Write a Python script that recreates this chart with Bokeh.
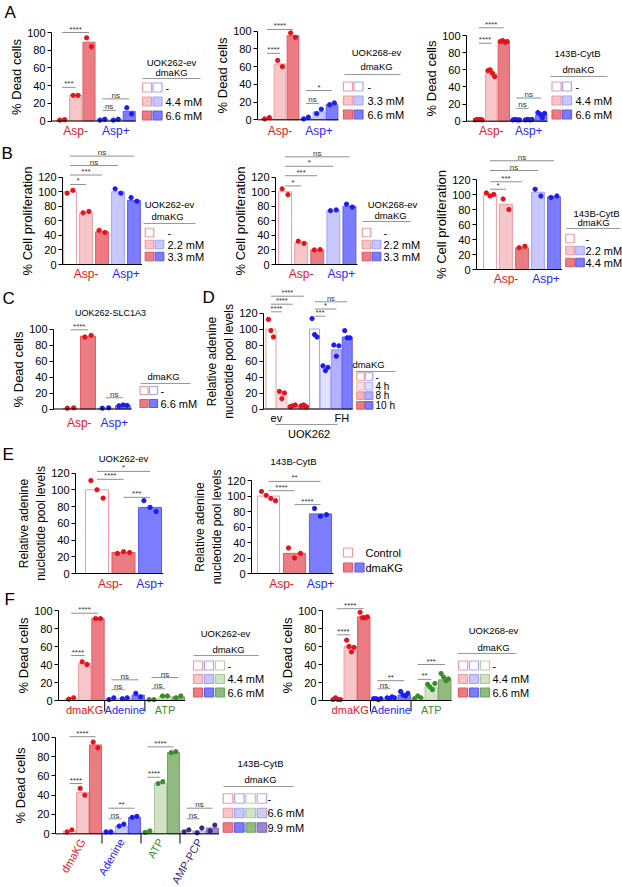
import math
from bokeh.plotting import figure
from bokeh.layouts import column, row
from bokeh.models import Range1d, FixedTicker
from bokeh.core.properties import value
from bokeh.embed import file_html
from bokeh.resources import INLINE

# ===================== DATA =====================
asp_groups = ["Asp-", "Asp+"]
cell_lines = ["UOK262-ev", "UOK268-ev", "143B-CytB"]
treat_groups = ["dmaKG", "Adenine", "ATP"]
treat_groups_f3 = ["dmaKG", "Adenine", "ATP", "AMP-PCP"]

# A: % dead cells; bars = Asp- (0, low, high), Asp+ (0, low, high)
a1_mean = [1, 29, 89, 1.5, 1.5, 11]
a1_pts = [[1, 1.5], [29, 29], [94, 84], [1, 2], [1, 2], [15, 8]]
a1_doses = ["-", "4.4 mM", "6.6 mM"]
a1_sig = [(0, 1, 38, "***"), (0, 2, 100, "****"), (3, 4, 12, "ns"), (3, 5, 25, "ns")]

a2_mean = [1.5, 63, 95, 1.5, 9, 17]
a2_pts = [[1, 2.5], [67, 60], [98, 93], [1, 3], [7, 12], [17, 19]]
a2_doses = ["-", "3.3 mM", "6.6 mM"]
a2_sig = [(0, 1, 75, "****"), (0, 2, 102, "****"), (3, 4, 18.5, "ns"), (3, 5, 33, "*")]

a3_mean = [1.5, 56, 93, 1.5, 1.5, 7]
a3_pts = [[1.5, 2, 2, 1.5], [59, 60, 56, 52], [93, 94, 92, 93],
          [1.5, 2, 1.5, 1.5], [1.5, 2, 1.5, 2], [10, 8, 4, 9]]
a3_doses = ["-", "4.4 mM", "6.6 mM"]
a3_sig = [(0, 1, 91, "****"), (0, 2, 109, "****"), (3, 4, 15, "ns"), (3, 5, 27, "ns")]

# B: % cell proliferation; bars = Asp- (0, low, high), Asp+ (low, high)
b1_mean = [100, 71, 45, 100, 88]
b1_pts = [[98, 102], [71, 73], [47, 44], [104, 98], [92, 87]]
b1_doses = ["-", "2.2 mM", "3.3 mM"]
b1_sig = [(0, 1, 110, "*"), (0, 2, 123, "***"), (0, 3, 136, "ns"), (0, 4, 149, "ns")]

b2_mean = [100, 30, 20, 74, 80]
b2_pts = [[104, 96], [32, 29], [20, 20.5], [74, 75], [83, 79]]
b2_doses = ["-", "2.2 mM", "3.3 mM"]
b2_sig = [(0, 1, 108, "*"), (0, 2, 122, "***"), (0, 3, 135, "*"), (0, 4, 148, "ns")]

b3_mean = [100, 87, 29, 103, 97]
b3_pts = [[102, 98, 100], [94, 80], [29, 31], [107, 98], [96, 98]]
b3_doses = ["-", "2.2 mM", "4.4 mM"]
b3_sig = [(0, 1, 107, "*"), (0, 2, 117, "***"), (0, 3, 132, "ns"), (0, 4, 145, "ns")]

# C: UOK262-SLC1A3 % dead cells; bars = Asp- (0, 6.6), Asp+ (0, 6.6)
c_title = "UOK262-SLC1A3"
c_mean = [1, 91, 1, 4]
c_pts = [[1, 1.5], [90, 92], [1, 1.5], [4, 5, 4.5]]
c_doses = ["-", "6.6 mM"]
c_sig = [(0, 1, 99, "****"), (2, 3, 14, "ns")]

# D: relative adenine nucleotide pool levels; ev (0,4,8,10 h), FH (0,4,8,10 h)
d_groups = ["ev", "FH"]
d_cell = "UOK262"
d_times = ["-", "4 h", "8 h", "10 h"]
d_mean = [100, 18, 4, 4, 100, 51, 74, 90]
d_pts = [[112, 98, 90], [22, 13, 20], [3, 4, 5], [4, 5, 3],
         [113, 93, 90], [54, 48, 52], [80, 66, 79], [98, 89, 89]]
d_sig = [(0, 1, 121.5, "****"), (0, 2, 131, "****"), (0, 3, 141, "****"),
         (4, 5, 116, "***"), (4, 6, 125, "*"), (4, 7, 134, "ns")]

# E: control (Asp-), dmaKG Asp-, dmaKG Asp+
e_legend = ["Control", "dmaKG"]
e1_mean = [100, 25, 79]
e1_pts = [[111, 100, 90], [24, 26, 25], [87, 79, 74]]
e1_sig = [(0, 1, 112.5, "****"), (0, 2, 122, "*"), (1, 2, 91, "***")]
e2_mean = [100, 26, 77]
e2_pts = [[106, 101, 97, 94], [33, 20, 26], [84, 74, 76]]
e2_sig = [(0, 1, 107, "****"), (0, 2, 119, "**"), (1, 2, 89, "****")]

# F: % dead cells; each group (0, low, high)
f1_mean = [2, 41, 91, 2, 2, 6, 1, 4.5, 4]
f1_pts = [[1.5, 3], [43, 40], [91, 91], [1, 3], [2, 3], [8, 4], [1, 1], [5, 5], [3, 5]]
f1_doses = ["-", "4.4 mM", "6.6 mM"]
f1_sig = [(0, 1, 50, "****"), (0, 2, 97, "****"), (3, 4, 12, "ns"), (3, 5, 23, "ns"),
          (6, 7, 13, "ns"), (6, 8, 25.5, "ns")]

f2_mean = [1.5, 60, 93, 2, 3, 6, 3, 15, 23]
f2_pts = [[1, 3, 1, 1], [67, 60, 54, 59], [98, 92, 92, 93], [2, 2, 1, 2], [3, 2, 4, 3],
          [10, 6, 5, 8], [2, 5, 3], [18, 15, 12, 19], [30, 26, 22, 24]]
f2_doses = ["-", "4.4 mM", "6.6 mM"]
f2_sig = [(0, 1, 73, "****"), (0, 2, 102, "****"), (3, 4, 13, "ns"), (3, 5, 22, "**"),
          (6, 7, 23.5, "**"), (6, 8, 40, "***")]

f3_mean = [3, 43, 92, 2, 8, 17, 2, 52, 84, 3, 3, 6]
f3_pts = [[2, 4], [47, 40], [95, 89], [2, 2], [8, 10], [17, 18], [1.5, 3], [52, 54],
          [84, 85], [2, 4], [1, 6], [3, 9]]
f3_doses = ["-", "6.6 mM", "9.9 mM"]
f3_sig = [(0, 1, 52, "****"), (0, 2, 100.5, "****"), (3, 4, 15.5, "ns"), (3, 5, 26.5, "**"),
          (6, 7, 58.5, "****"), (6, 8, 90, "****"), (9, 10, 15.5, "ns"), (9, 11, 26.5, "ns")]

# ===================== STYLE =====================
FONT = "Liberation Sans"
RED = [("#ffffff", "#f19aa0"), ("#f7c6c9", "#ee9ca2"), ("#ec7c83", "#e05b64")]
BLUE = [("#ffffff", "#a3a3ff"), ("#c8c8ff", "#a3a3ff"), ("#7c7cff", "#5c5cf2")]
GREEN = [("#ffffff", "#b5d1a7"), ("#d1e2c7", "#abc99c"), ("#90ba80", "#71a361")]
PURPLE = [("#ffffff", "#b6acd8"), ("#d4cdea", "#ada1d6"), ("#9a8aca", "#7b6ab4")]
RED4 = [("#ffffff", "#f19aa0"), ("#fbe1e3", "#f4b6ba"), ("#f5b6ba", "#ee959b"), ("#ec7c83", "#e05b64")]
BLUE4 = [("#ffffff", "#a3a3ff"), ("#e0e0ff", "#b8b8ff"), ("#b2b2ff", "#9090ff"), ("#7c7cff", "#5c5cf2")]
RD, BD, GD, PD = "#e3121b", "#1c1cf2", "#3b8a2b", "#36297e"
C_RED, C_BLUE, C_GREEN, C_PURPLE = "#e8141c", "#2626ff", "#3f8f2f", "#3a2b8a"
SIG_LINE, SIG_TXT = "#8f8f8f", "#333333"
DOT_SPAN = {1: 0.0, 2: 0.36, 3: 0.46, 4: 0.54}


class Panel:
    def __init__(self, left, top, w, h, axis_x, y0, ppu, xb0, pitch, ymax, ylabel,
                 ystep=20, label_size="13px"):
        self.xb0, self.pitch, self.y0, self.ppu, self.axis_x = xb0, pitch, y0, ppu, axis_x
        p = figure(width=w, height=h, output_backend="svg", toolbar_location=None,
                   x_range=Range1d(self.X(left), self.X(left + w)),
                   y_range=Range1d(self.Y(top + h), self.Y(top)),
                   min_border_left=0, min_border_right=0,
                   min_border_top=0, min_border_bottom=0)
        p.outline_line_color = None
        p.xgrid.visible = False
        p.ygrid.visible = False
        p.xaxis.visible = False
        ax = p.yaxis[0]
        ax.fixed_location = self.X(axis_x)
        ax.ticker = FixedTicker(ticks=list(range(0, ymax + 1, ystep)))
        ax.bounds = (0, ymax)
        ax.axis_label = ylabel
        ax.axis_label_text_font = FONT
        ax.axis_label_text_font_size = label_size
        ax.axis_label_text_font_style = "normal"
        ax.axis_label_text_color = "black"
        ax.axis_label_standoff = 0
        ax.major_label_text_font = FONT
        ax.major_label_text_font_size = "11px"
        ax.major_label_text_color = "black"
        ax.major_label_standoff = 2
        ax.major_tick_out = 4
        ax.major_tick_in = 0
        ax.minor_tick_out = 0
        ax.minor_tick_in = 0
        ax.axis_line_color = "black"
        ax.major_tick_line_color = "black"
        self.p = p

    def X(self, px):
        return (px - self.xb0) / self.pitch - 0.5

    def Y(self, py):
        return (self.y0 - py) / self.ppu

    def txt(self, x, y, s, color="black", size="11px", align="center",
            baseline="middle", angle=0.0):
        self.p.text(x=[x], y=[y], text=[s], text_color=color, text_font=value(FONT),
                    text_font_size=size, text_align=align, text_baseline=baseline,
                    angle=angle)

    def bars(self, mean, pts, styles, dotcols, bw=0.9):
        n = len(mean)
        xs = list(range(n))
        self.p.vbar(x=xs, top=mean, bottom=0, width=bw,
                    fill_color=[s[0] for s in styles], line_color=[s[1] for s in styles],
                    line_width=1)
        dx, dy, dc = [], [], []
        for i, vals in enumerate(pts):
            m = len(vals)
            step = 0 if m == 1 else DOT_SPAN[m] / (m - 1)
            for k, v in enumerate(vals):
                dx.append(i + (k - (m - 1) / 2) * step)
                dy.append(v)
                dc.append(dotcols[i])
        self.p.scatter(dx, dy, size=4.3, fill_color=dc, line_color=dc, marker="circle")
        self.p.segment(x0=[self.X(self.axis_x)], y0=[0], x1=[n - 0.5], y1=[0],
                       line_color="black", line_width=1)

    def sig(self, sigs, size="8px"):
        for i, j, yv, lab in sigs:
            self.p.segment(x0=[i], y0=[yv], x1=[j], y1=[yv], line_color=SIG_LINE, line_width=1)
            self.txt((i + j) / 2, yv + 3.5 / self.ppu, lab, color=SIG_TXT, size=size,
                     baseline="alphabetic")

    def legend(self, fams, levels, labels, cx0, cpitch, ry0, rpitch, size, lab_x,
               titles=(), rule=None, present=None, lab_size="11px", title_size="9.5px"):
        for r, lab in enumerate(labels):
            cy = ry0 + r * rpitch
            cols = present[r] if present else range(len(fams))
            for c in cols:
                fill, line = fams[c][levels[r]]
                self.p.rect(x=[self.X(cx0 + c * cpitch)], y=[self.Y(cy)], width=size,
                            height=size, width_units="screen", height_units="screen",
                            fill_color=fill, line_color=line, line_width=1.2)
            self.txt(self.X(lab_x), self.Y(cy), lab, size=lab_size, align="left")
        for t, tx, ty in titles:
            self.txt(self.X(tx), self.Y(ty), t, size=title_size)
        if rule:
            self.p.segment(x0=[self.X(rule[0])], y0=[self.Y(rule[2])], x1=[self.X(rule[1])],
                           y1=[self.Y(rule[2])], line_color="#9a9a9a", line_width=1)

    def letter(self, s, px, py):
        self.txt(self.X(px), self.Y(py), s, size="17px", align="left")

    def seps(self, xs, py):
        for x in xs:
            self.p.segment(x0=[x], y0=[0], x1=[x], y1=[self.Y(py)], line_color="black",
                           line_width=1)


ASP_STY = [RED[0], RED[1], RED[2], BLUE[0], BLUE[1], BLUE[2]]
ASP_DOT = [RD] * 3 + [BD] * 3
B_STY = [RED[0], RED[1], RED[2], BLUE[1], BLUE[2]]
B_DOT = [RD] * 3 + [BD] * 2
DEAD = "% Dead cells"
PROL = "% Cell proliferation"
POOL = "Relative adenine\nnucleotide pool levels"

# ---------------- A ----------------
A1 = Panel(0, 0, 212, 140, 51, 120.5, 0.885, 55, 13.4, 100, DEAD)
A1.bars(a1_mean, a1_pts, ASP_STY, ASP_DOT)
A1.sig(a1_sig)
A1.txt(1, A1.Y(130), asp_groups[0], C_RED, "12px")
A1.txt(4, A1.Y(130), asp_groups[1], C_BLUE, "12px")
A1.legend([RED, BLUE], [0, 1, 2], a1_doses, 146.5, 10.5, 87, 14, 9, 165,
          titles=[(cell_lines[0], 171, 62), ("dmaKG", 171, 72)], rule=(142, 200, 78))
A1.letter("A", 4, 12)

A2 = Panel(212, 0, 208, 140, 257, 119.3, 0.886, 260, 13, 100, DEAD)
A2.bars(a2_mean, a2_pts, ASP_STY, ASP_DOT)
A2.sig(a2_sig)
A2.txt(1, A2.Y(130), asp_groups[0], C_RED, "12px")
A2.txt(4, A2.Y(130), asp_groups[1], C_BLUE, "12px")
A2.legend([RED, BLUE], [0, 1, 2], a2_doses, 347.5, 10.5, 86, 14, 9, 367,
          titles=[(cell_lines[1], 376, 52), ("dmaKG", 376, 66)], rule=(344, 400, 74))

A3 = Panel(420, 0, 202, 140, 466, 120.7, 0.857, 472, 12.5, 100, DEAD)
A3.bars(a3_mean, a3_pts, ASP_STY, ASP_DOT)
A3.sig(a3_sig)
A3.txt(1, A3.Y(130), asp_groups[0], C_RED, "12px")
A3.txt(4, A3.Y(130), asp_groups[1], C_BLUE, "12px")
A3.legend([RED, BLUE], [0, 1, 2], a3_doses, 556, 10.5, 86, 14, 9, 575,
          titles=[(cell_lines[2], 577, 53), ("dmaKG", 578, 69)], rule=(550, 607, 76))

# ---------------- B ----------------
B1 = Panel(0, 140, 225, 145, 62, 264, 0.7275, 61.5, 16, 120, PROL)
B1.bars(b1_mean, b1_pts, B_STY, B_DOT, bw=0.8)
B1.sig(b1_sig)
B1.txt(1, B1.Y(273), asp_groups[0], C_RED, "12px")
B1.txt(3.5, B1.Y(273), asp_groups[1], C_BLUE, "12px")
B1.legend([RED, BLUE], [0, 1, 2], b1_doses, 149, 10, 232, 12, 8.5, 167,
          titles=[(cell_lines[0], 169, 204), ("dmaKG", 167, 216)], rule=(143, 195, 223),
          present=[[0], [0, 1], [0, 1]])
B1.letter("B", 1, 153)

B2 = Panel(225, 140, 205, 145, 275, 264, 0.7275, 276.5, 16.1, 120, PROL)
B2.bars(b2_mean, b2_pts, B_STY, B_DOT, bw=0.8)
B2.sig(b2_sig)
B2.txt(1, B2.Y(273), asp_groups[0], C_RED, "12px")
B2.txt(3.5, B2.Y(273), asp_groups[1], C_BLUE, "12px")
B2.legend([RED, BLUE], [0, 1, 2], b2_doses, 366, 10, 232, 12, 8.5, 383,
          titles=[(cell_lines[1], 392, 204), ("dmaKG", 390, 215)], rule=(362, 410, 221),
          present=[[0], [0, 1], [0, 1]])

B3 = Panel(430, 140, 192, 145, 476, 269, 0.75, 481.5, 16, 120, PROL)
B3.bars(b3_mean, b3_pts, B_STY, B_DOT, bw=0.8)
B3.sig(b3_sig)
B3.txt(1, B3.Y(278), asp_groups[0], C_RED, "12px")
B3.txt(3.5, B3.Y(278), asp_groups[1], C_BLUE, "12px")
B3.legend([RED, BLUE], [0, 1, 2], b3_doses, 569.5, 10, 238, 12, 8.5, 585,
          titles=[(cell_lines[2], 596, 213), ("dmaKG", 593, 222)], rule=(566, 620, 228),
          present=[[0], [0, 1], [0, 1]])

# ---------------- C ----------------
C = Panel(0, 285, 200, 158, 53, 408.5, 0.8, 61.25, 17.5, 100, DEAD)
C.bars(c_mean, c_pts, [RED[0], RED[2], BLUE[0], BLUE[2]], [RD, RD, BD, BD], bw=0.86)
C.sig(c_sig)
C.txt(0.5, C.Y(422), asp_groups[0], C_RED, "12px")
C.txt(2.5, C.Y(422), asp_groups[1], C_BLUE, "12px")
C.txt(C.X(110), C.Y(312), c_title, size="9px")
C.legend([RED, BLUE], [0, 2], c_doses, 143.5, 9.5, 390, 13, 8, 160,
         titles=[("dmaKG", 163, 376)], rule=(140, 190, 383))
C.letter("C", 2, 298)

# ---------------- D ----------------
D = Panel(200, 285, 222, 158, 263, 408.5, 0.8, 265, 10.9, 120, POOL, label_size="12px")
D.bars(d_mean, d_pts, RED4 + BLUE4, [RD] * 4 + [BD] * 4, bw=0.92)
D.sig(d_sig, size="7.5px")
D.txt(0.5, D.Y(417), d_groups[0], size="11px")
D.txt(6.5, D.Y(417), d_groups[1], size="11px")
D.p.segment(x0=[D.X(275)], y0=[D.Y(424)], x1=[D.X(337)], y1=[D.Y(424)],
            line_color="#9a9a9a", line_width=1)
D.txt(3.5, D.Y(433), d_cell, size="11px")
D.legend([RED4, BLUE4], [0, 1, 2, 3], d_times, 360, 8.5, 376, 9.6, 7.5, 375,
         titles=[("dmaKG", 368, 364)], rule=(355, 395, 371), lab_size="10px")
D.letter("D", 202, 297)

# ---------------- E ----------------
E_STY = [RED[0], RED[2], BLUE[2]]
E_DOT = [RD, RD, BD]
E1 = Panel(0, 443, 190, 147, 75, 573, 0.837, 83.25, 26.5, 120, POOL, label_size="12px")
E1.bars(e1_mean, e1_pts, E_STY, E_DOT, bw=0.87)
E1.sig(e1_sig)
E1.txt(0.5, E1.Y(583), asp_groups[0], C_RED, "12px")
E1.txt(2, E1.Y(583), asp_groups[1], C_BLUE, "12px")
E1.txt(E1.X(123), E1.Y(458), cell_lines[0], size="9.5px")
E1.letter("E", 2, 454)

E2 = Panel(190, 443, 222, 147, 251, 573, 0.774, 255, 26, 120, POOL, label_size="12px")
E2.bars(e2_mean, e2_pts, E_STY, E_DOT, bw=0.85)
E2.sig(e2_sig)
E2.txt(0.5, E2.Y(583), asp_groups[0], C_RED, "12px")
E2.txt(2, E2.Y(583), asp_groups[1], C_BLUE, "12px")
E2.txt(E2.X(293), E2.Y(461), cell_lines[2], size="9.5px")
E2.legend([RED, BLUE], [0, 2], e_legend, 347.5, 11.5, 552, 15, 9, 365,
          present=[[0], [0, 1]])

# ---------------- F ----------------
F_STY = [RED[0], RED[1], RED[2], BLUE[0], BLUE[1], BLUE[2], GREEN[0], GREEN[1], GREEN[2]]
F_DOT = [RD] * 3 + [BD] * 3 + [GD] * 3
F_COL = [C_RED, C_BLUE, C_GREEN, C_PURPLE]

F1 = Panel(0, 590, 272, 126, 58, 700, 0.9, 64, 13.4, 100, DEAD)
F1.bars(f1_mean, f1_pts, F_STY, F_DOT, bw=0.92)
F1.sig(f1_sig)
F1.seps([2.5, 5.5], 711)
for g, name in enumerate(treat_groups):
    F1.txt(3 * g + 1, F1.Y(709), name, F_COL[g], "11px")
F1.legend([RED, BLUE, GREEN], [0, 1, 2], f1_doses, 197.5, 11, 665, 13.5, 9, 227,
          titles=[(cell_lines[0], 225, 633), ("dmaKG", 228, 649)], rule=(193, 258, 655))
F1.letter("F", 4, 599)

F2 = Panel(272, 590, 350, 126, 322, 700, 0.9, 329.5, 13.5, 100, DEAD)
F2.bars(f2_mean, f2_pts, F_STY, F_DOT, bw=0.92)
F2.sig(f2_sig)
F2.seps([2.5, 5.5], 711)
for g, name in enumerate(treat_groups):
    F2.txt(3 * g + 1, F2.Y(709), name, F_COL[g], "11px")
F2.legend([RED, BLUE, GREEN], [0, 1, 2], f2_doses, 462.5, 11, 665, 13.5, 9, 492,
          titles=[(cell_lines[1], 493, 630), ("dmaKG", 493, 647)], rule=(457, 516, 653))

F3 = Panel(0, 716, 310, 171, 55, 833.3, 0.966, 62.5, 13, 100, DEAD)
F3.bars(f3_mean, f3_pts, F_STY + [PURPLE[0], PURPLE[1], PURPLE[2]], F_DOT + [PD] * 3, bw=0.92)
F3.sig(f3_sig)
F3.seps([2.5, 5.5, 8.5], 843)
for g, name in enumerate(treat_groups_f3):
    F3.txt(3 * g + 1, F3.Y(839), name, F_COL[g], "11px", align="right", angle=math.pi / 3)
F3.legend([RED, BLUE, GREEN, PURPLE], [0, 1, 2], f3_doses, 227.5, 11.3, 798, 14.5, 9.5, 267,
          titles=[(cell_lines[2], 260, 763), ("dmaKG", 260, 779)], rule=(223, 293, 786))

layout = column(
    row(A1.p, A2.p, A3.p),
    row(B1.p, B2.p, B3.p),
    row(C.p, D.p),
    row(E1.p, E2.p),
    row(F1.p, F2.p),
    row(F3.p),
)

with open("out.html", "w") as fh:
    fh.write(file_html(layout, INLINE, title="figure"))
